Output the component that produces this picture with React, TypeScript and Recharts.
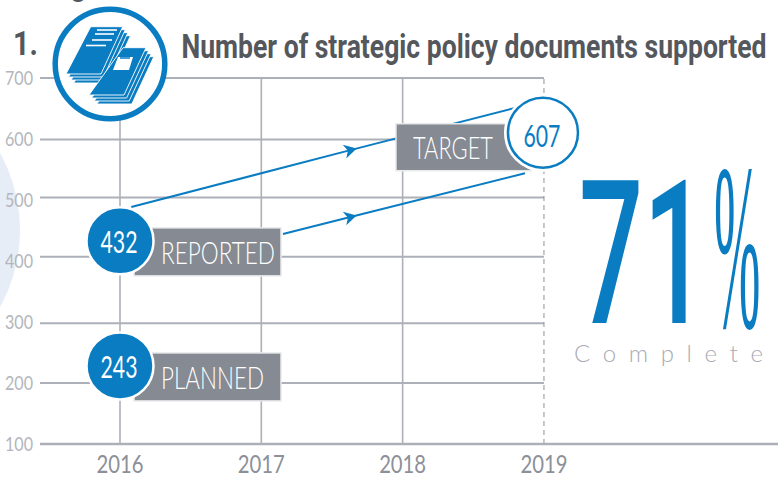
import React from "react";
import { ComposedChart, XAxis, YAxis, Line, Scatter, ReferenceLine } from "recharts";

const BLUE = "#0a7cc2";
const GRID = "#adb0b8";
const BOX = "#858a93";
const DARK = "#54575c";

const years = [2016, 2017, 2018, 2019];
const solidYears = [2016, 2017, 2018];
const tickValues = [100, 200, 300, 400, 500, 600, 700];
const gridValues = [700, 599, 504, 407, 298, 200];
const xDomain = [2015.434, 2020.656];
const yDomain = [100, 700];

const upperArrow = [
  { x: 2016.08, y: 488.5 },
  { x: 2017.63, y: 581.8 },
  { x: 2018.82, y: 652.5 },
];
const lowerArrow = [
  { x: 2017.153, y: 444.3 },
  { x: 2017.63, y: 472 },
  { x: 2018.866, y: 544 },
];
const plannedPoint = [{ x: 2016, y: 228, shown: "243", label: "PLANNED" }];
const reportedPoint = [{ x: 2016, y: 433, shown: "432", label: "REPORTED" }];
const targetPoint = [{ x: 2019, y: 607, shown: "607", label: "TARGET" }];

const thin = { fontFamily: "Lato, sans-serif", fontWeight: 300 };
const regular = { fontFamily: "Lato, sans-serif", fontWeight: 400 };

const YTick = ({ y, payload }: any) => (
  <text x={33} y={y + 7} textAnchor="end" fontSize={20} fill="#b3b6bd" {...regular} textLength={28} lengthAdjust="spacingAndGlyphs">
    {payload.value}
  </text>
);

const XTick = ({ x, payload }: any) => (
  <text x={x} y={473} textAnchor="middle" fontSize={25} fill="#8c9099" {...regular} textLength={47} lengthAdjust="spacingAndGlyphs">
    {payload.value}
  </text>
);

const ArrowDot = ({ cx, cy, index }: any) =>
  index === 1 ? (
    <path
      key={index}
      d="M6.5 0 L-6 -7 L-2.5 0 L-6 7 Z"
      fill={BLUE}
      stroke="none"
      transform={`translate(${cx} ${cy}) rotate(-14.5)`}
    />
  ) : (
    <g key={index} />
  );

const FilledMarker = ({ cx, cy, payload }: any) => {
  const textWidth = payload.label === "REPORTED" ? 114 : 103;
  return (
    <g>
      <rect x={cx + 14} y={cy - 13} width={147} height={48} fill={BOX} stroke="#e9eaec" strokeWidth={1.5} />
      <circle cx={cx} cy={cy} r={33.5} fill={BLUE} stroke="#fff" strokeWidth={2.5} />
      <text x={cx + 41} y={cy + 23} fontSize={31} fill="#fff" {...thin} textLength={textWidth} lengthAdjust="spacingAndGlyphs">
        {payload.label}
      </text>
      <text x={cx - 1} y={cy + 12} textAnchor="middle" fontSize={31} fill="#fff" {...regular} textLength={37} lengthAdjust="spacingAndGlyphs">
        {payload.shown}
      </text>
    </g>
  );
};

const TargetMarker = ({ cx, cy, payload }: any) => (
  <g>
    <rect x={cx - 148} y={cy - 11} width={135} height={47} fill={BOX} stroke="#e9eaec" strokeWidth={1.5} />
    <circle cx={cx - 1} cy={cy - 2} r={35.5} fill="#fff" stroke="#fff" strokeWidth={7} />
    <circle cx={cx - 1} cy={cy - 2} r={35} fill="#fff" stroke={BLUE} strokeWidth={2.5} />
    <text x={cx - 131} y={cy + 24.5} fontSize={31} fill="#fff" {...thin} textLength={80} lengthAdjust="spacingAndGlyphs">
      {payload.label}
    </text>
    <text x={cx - 2} y={cy + 12} textAnchor="middle" fontSize={31} fill={BLUE} {...regular} textLength={37} lengthAdjust="spacingAndGlyphs">
      {payload.shown}
    </text>
  </g>
);

const Stack = ({ pts }: { pts: number[][] }) => (
  <g>
    {[3, 2, 1, 0].map((k) => (
      <polygon
        key={k}
        points={pts.map(([a, b]) => `${a + k * 2.6},${b + k * 3}`).join(" ")}
        fill={BLUE}
        stroke="#fff"
        strokeWidth={0.9}
      />
    ))}
  </g>
);

const Underlay = () => (
  <svg width={780} height={479} style={{ position: "absolute", left: 0, top: 0 }}>
    <circle cx={-138} cy={230} r={158} fill="#e6edf7" />
  </svg>
);

const Overlay = () => (
  <svg width={780} height={479} style={{ position: "absolute", left: 0, top: 0, pointerEvents: "none" }}>
    <text x={70} y={-4} fontSize={30} fill={DARK} fontFamily="Roboto">g</text>
    <text x={13} y={55} fontSize={34} fontWeight={700} fill={DARK} fontFamily="Roboto" textLength={25} lengthAdjust="spacingAndGlyphs">1.</text>
    <circle cx={110} cy={64} r={54.8} fill="#fff" stroke={BLUE} strokeWidth={5.5} />
    <Stack pts={[[90.7, 26.7], [122.7, 26.7], [101, 74], [66, 74]]} />
    <g stroke="#fff" strokeWidth={1.6}>
      <line x1={97} y1={30} x2={117} y2={30} />
      <line x1={95} y1={34} x2={114} y2={34} />
      <line x1={92} y1={40} x2={112} y2={40} />
      <line x1={86} y1={45.5} x2={106} y2={45.5} />
    </g>
    <Stack pts={[[123, 47.7], [146, 47.7], [124, 95], [89, 95]]} />
    <path d="M118 57 L133 57 L129 70 L113 70 Z" fill="#fff" />
    <line x1={120} y1={58} x2={130} y2={58} stroke={BLUE} strokeWidth={1.5} />
    <text x={181.5} y={58} fontSize={33} fontWeight={700} fill={DARK} fontFamily="Roboto" textLength={585} lengthAdjust="spacingAndGlyphs">
      Number of strategic policy documents supported
    </text>
    <text x={0} y={0} transform="translate(579 323) scale(0.565 1)" fontSize={200} fill={BLUE} fontFamily="Roboto" fontWeight={500}>
      71
    </text>
    <text x={0} y={0} transform="translate(714 327) scale(0.45 1.92)" fontSize={124} fill={BLUE} fontFamily="Liberation Serif">
      %
    </text>
    <text x={574} y={362} fontSize={24} fill="#a8abb5" {...thin} textLength={189}>
      Complete
    </text>
  </svg>
);

export default function App() {
  return (
    <div style={{ position: "absolute", left: 0, top: 0, width: 780, height: 479, background: "#fff", overflow: "hidden" }}>
      <Underlay />
      <div style={{ position: "absolute", left: 0, top: 0 }}>
        <ComposedChart width={780} height={479} margin={{ top: 78, right: 2, bottom: 0, left: 0 }}>
          <XAxis
            type="number"
            dataKey="x"
            domain={xDomain}
            ticks={years}
            allowDataOverflow
            height={35}
            tick={XTick}
            tickLine={false}
            axisLine={{ stroke: GRID, strokeWidth: 2.5 }}
          />
          <YAxis
            type="number"
            dataKey="y"
            domain={yDomain}
            ticks={tickValues}
            allowDataOverflow
            width={40}
            tick={YTick}
            tickLine={false}
            axisLine={false}
          />
          {gridValues.map((v) => (
            <ReferenceLine key={v} segment={[{ x: xDomain[0], y: v }, { x: 2019, y: v }]} stroke={GRID} strokeWidth={2} />
          ))}
          {solidYears.map((v) => (
            <ReferenceLine key={v} x={v} stroke={GRID} strokeWidth={1.6} />
          ))}
          <ReferenceLine x={2019} stroke="#8f9297" strokeWidth={1} strokeDasharray="5 4" />
          <Line data={upperArrow} dataKey="y" stroke={BLUE} strokeWidth={2} dot={ArrowDot} activeDot={false} isAnimationActive={false} legendType="none" />
          <Line data={lowerArrow} dataKey="y" stroke={BLUE} strokeWidth={2} dot={ArrowDot} activeDot={false} isAnimationActive={false} legendType="none" />
          <Scatter data={plannedPoint} dataKey="y" shape={FilledMarker} isAnimationActive={false} />
          <Scatter data={reportedPoint} dataKey="y" shape={FilledMarker} isAnimationActive={false} />
          <Scatter data={targetPoint} dataKey="y" shape={TargetMarker} isAnimationActive={false} />
        </ComposedChart>
      </div>
      <Overlay />
    </div>
  );
}
